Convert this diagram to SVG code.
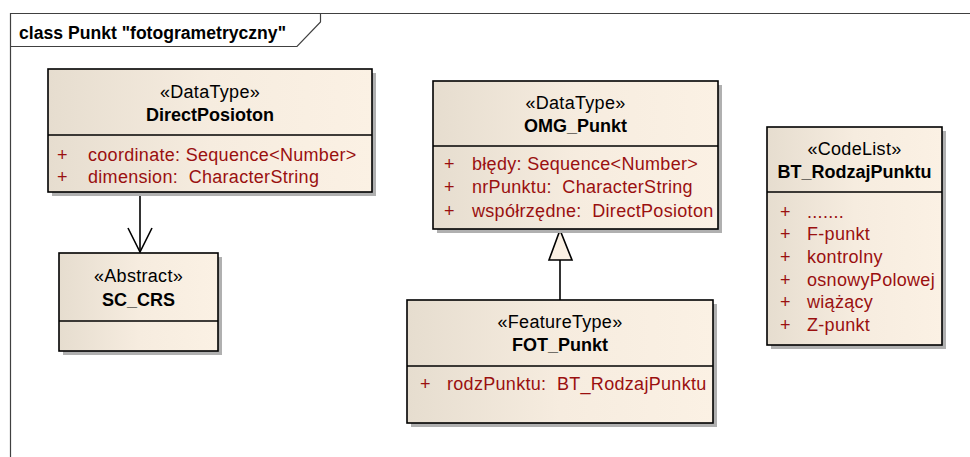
<svg xmlns="http://www.w3.org/2000/svg" width="970" height="457" viewBox="0 0 970 457">
<defs>
<linearGradient id="fillg" x1="0" y1="0" x2="1" y2="0">
<stop offset="0" stop-color="#E6DDCF"/>
<stop offset="0.5" stop-color="#F6ECDF"/>
<stop offset="1" stop-color="#FBF1E4"/>
</linearGradient>
<style>
.box{fill:url(#fillg);stroke:#000;stroke-width:1.6}
.shadow{fill:#B0B0B0}
.sep{stroke:#000;stroke-width:1.6}
text{white-space:pre}
.st{font-family:"Liberation Sans",Arial,sans-serif;font-size:18px;letter-spacing:0.3px;fill:#000;text-anchor:middle}
.nm{font-family:"Liberation Sans",Arial,sans-serif;font-size:18px;font-weight:bold;fill:#000;text-anchor:middle}
.at{font-family:"Liberation Sans",Arial,sans-serif;font-size:18px;letter-spacing:0.3px;fill:#9A1010}
.conn{stroke:#000;stroke-width:1.6;fill:none}
</style>
</defs>
<rect width="970" height="457" fill="#fff"/>
<g id="frame">
<path d="M10.5,457 V13.5 H970" fill="none" stroke="#404040" stroke-width="1.2"/>
<path d="M10.5,46.5 H297 L320.5,22 V13.5" fill="none" stroke="#404040" stroke-width="1.2"/>
<text x="19" y="39" font-family="Liberation Sans,Arial,sans-serif" font-size="17.6" font-weight="bold">class Punkt "fotogrametryczny"</text>
</g>
<g id="connectors">
<line class="conn" x1="140" y1="192" x2="140" y2="252"/>
<polyline class="conn" points="128,228 140,252 152,228"/>
<line class="conn" x1="560" y1="260" x2="560" y2="300"/>
<polygon points="560,230 549,260 572,260" fill="#FBF1E4" stroke="#000" stroke-width="1.6"/>
</g>
<g id="DirectPosioton">
<rect class="shadow" x="52" y="73" width="324" height="123"/>
<rect class="box" x="48" y="69" width="324" height="123"/>
<line class="sep" x1="48" y1="135" x2="372" y2="135"/>
<text class="st" x="210" y="98">«DataType»</text>
<text class="nm" x="210" y="121">DirectPosioton</text>
<text class="at" x="57" y="161">+</text>
<text class="at" x="88" y="161">coordinate: Sequence&lt;Number&gt;</text>
<text class="at" x="57" y="183">+</text>
<text class="at" x="88" y="183">dimension:  CharacterString</text>
</g>
<g id="SC_CRS">
<rect class="shadow" x="63" y="257" width="159" height="98"/>
<rect class="box" x="59" y="253" width="159" height="98"/>
<line class="sep" x1="59" y1="321" x2="218" y2="321"/>
<text class="st" x="138.5" y="282">«Abstract»</text>
<text class="nm" x="138.5" y="306">SC_CRS</text>
</g>
<g id="OMG_Punkt">
<rect class="shadow" x="437" y="85" width="285" height="148"/>
<rect class="box" x="433" y="81" width="285" height="148"/>
<line class="sep" x1="433" y1="146" x2="718" y2="146"/>
<text class="st" x="575.5" y="109">«DataType»</text>
<text class="nm" x="575.5" y="132">OMG_Punkt</text>
<text class="at" x="444" y="170">+</text>
<text class="at" x="472" y="170">błędy: Sequence&lt;Number&gt;</text>
<text class="at" x="444" y="193">+</text>
<text class="at" x="472" y="193">nrPunktu:  CharacterString</text>
<text class="at" x="444" y="217">+</text>
<text class="at" x="472" y="217">współrzędne:  DirectPosioton</text>
</g>
<g id="FOT_Punkt">
<rect class="shadow" x="411" y="304" width="306" height="123"/>
<rect class="box" x="407" y="300" width="306" height="123"/>
<line class="sep" x1="407" y1="366" x2="713" y2="366"/>
<text class="st" x="560" y="328">«FeatureType»</text>
<text class="nm" x="560" y="351">FOT_Punkt</text>
<text class="at" x="420" y="390">+</text>
<text class="at" x="447" y="390">rodzPunktu:  BT_RodzajPunktu</text>
</g>
<g id="BT_RodzajPunktu">
<rect class="shadow" x="771" y="131" width="175" height="218"/>
<rect class="box" x="767" y="127" width="175" height="218"/>
<line class="sep" x1="767" y1="192" x2="942" y2="192"/>
<text class="st" x="854.5" y="155">«CodeList»</text>
<text class="nm" x="854.5" y="178">BT_RodzajPunktu</text>
<text class="at" x="780" y="218">+</text>
<text class="at" x="807" y="218">.......</text>
<text class="at" x="780" y="240">+</text>
<text class="at" x="807" y="240">F-punkt</text>
<text class="at" x="780" y="263">+</text>
<text class="at" x="807" y="263">kontrolny</text>
<text class="at" x="780" y="286">+</text>
<text class="at" x="807" y="286">osnowyPolowej</text>
<text class="at" x="780" y="308">+</text>
<text class="at" x="807" y="308">wiążący</text>
<text class="at" x="780" y="331">+</text>
<text class="at" x="807" y="331">Z-punkt</text>
</g>
</svg>
